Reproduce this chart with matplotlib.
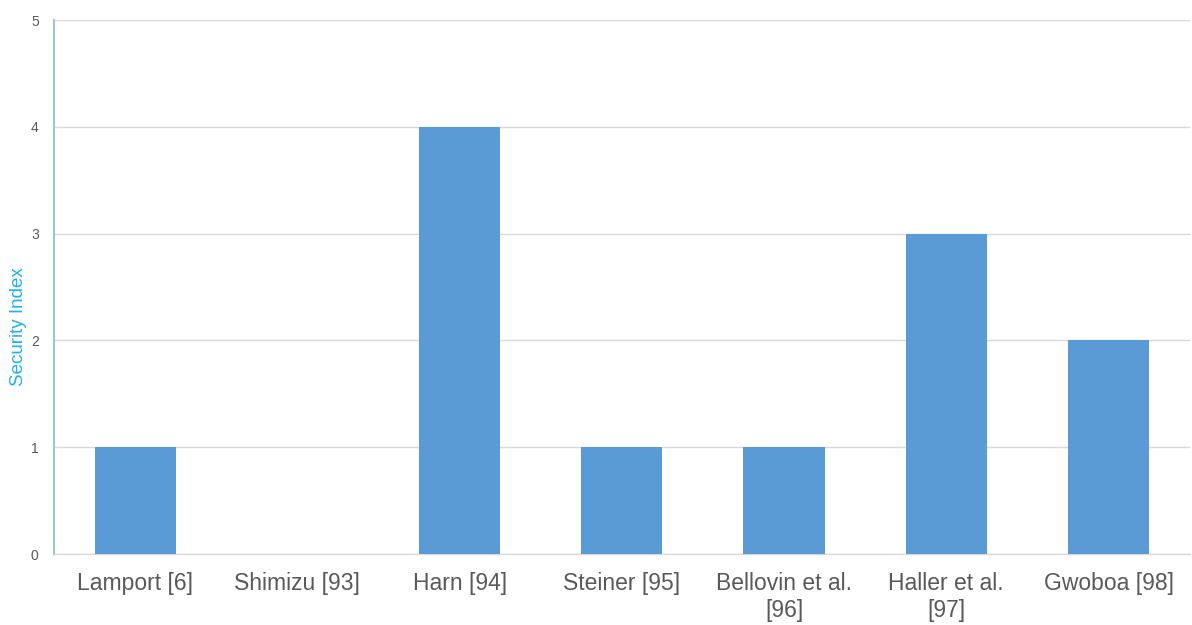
import matplotlib
matplotlib.use('Agg')
from matplotlib import pyplot as plt

plt.rcParams['font.family'] = ['Liberation Sans', 'DejaVu Sans']

# security index per scheme
schemes = ['Lamport [6]', 'Shimizu [93]', 'Harn [94]', 'Steiner [95]',
           'Bellovin et al.\n[96]', 'Haller et al.\n[97]', 'Gwoboa [98]']
security_index = [1, 0, 4, 1, 1, 3, 2]
y_ticks = [0, 1, 2, 3, 4, 5]

fig = plt.figure(figsize=(11.92, 6.25), dpi=100)
ax = fig.add_axes([0.0453, 0.1136, 0.9527, 0.8544])

x = range(len(schemes))
ax.bar(x, security_index, width=0.5, color='#5B9BD5', zorder=3)

ax.set_xlim(-0.5, len(schemes) - 0.5)
ax.set_ylim(0, 5)
ax.set_yticks(y_ticks)
ax.set_xticks(list(x))
ax.set_xticklabels(schemes, fontsize=16.5, color='#595959', linespacing=1.22,
                   va='top')
ax.tick_params(axis='x', length=0, pad=13)
ax.tick_params(axis='y', length=0, pad=11, labelsize=10, labelcolor='#595959')

ax.grid(axis='y', color='#D9D9D9', linewidth=1, zorder=0)
for side in ['top', 'right']:
    ax.spines[side].set_visible(False)
ax.spines['left'].set_color('#9DC3E6')
ax.spines['left'].set_linewidth(1.5)
ax.spines['bottom'].set_color('#D9D9D9')
ax.spines['bottom'].set_linewidth(1)

ax.set_ylabel('Security Index', fontsize=13.5, color='#1FB0F0')
ax.yaxis.set_label_coords(-0.024, 0.425)

fig.savefig('out.png', dpi=100)
